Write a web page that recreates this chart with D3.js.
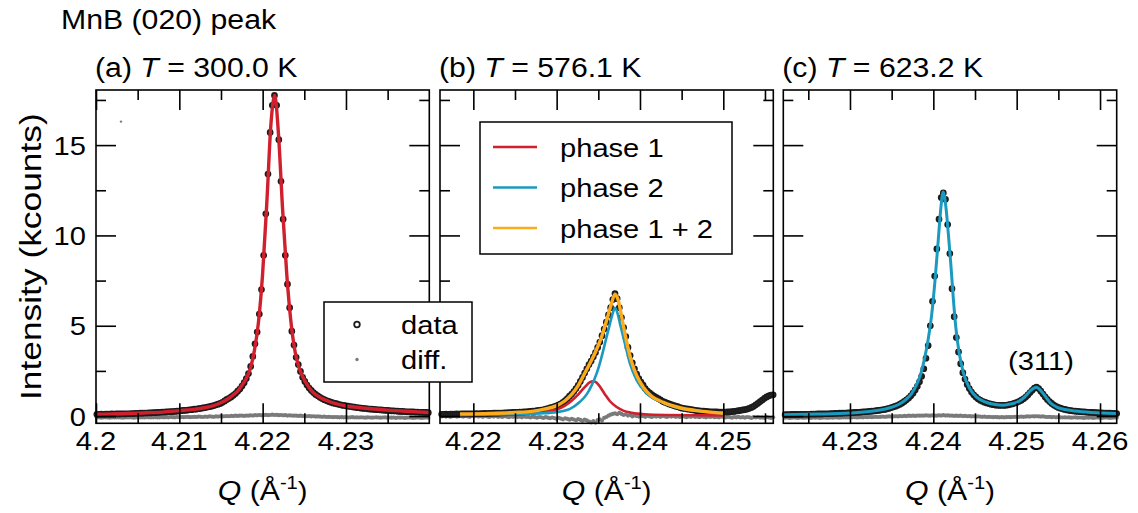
<!DOCTYPE html>
<html><head><meta charset="utf-8">
<script src="https://cdn.jsdelivr.net/npm/d3@7"></script>
<style>body{margin:0;background:#fff}svg{display:block}</style>
</head><body>
<svg id="chart" width="1138" height="513"></svg>
<script>
// ---------------- DATA ----------------
// measured Q grid: start + step * index (uniform detector sampling)
const qStep = 0.00026;
const qStartA = 4.2001, qStartB = 4.2162, qStartC = 4.22222;

// (a) T = 300.0 K  intensity (kcounts)
const dataA = [
0.10,0.10,0.11,0.10,0.11,0.11,0.11,0.12,0.11,0.12,
0.12,0.12,0.13,0.12,0.13,0.13,0.14,0.14,0.15,0.15,
0.16,0.16,0.17,0.17,0.18,0.18,0.19,0.19,0.20,0.21,
0.22,0.22,0.23,0.24,0.25,0.25,0.26,0.27,0.28,0.30,
0.31,0.32,0.33,0.35,0.36,0.38,0.39,0.41,0.43,0.45,
0.47,0.50,0.52,0.55,0.58,0.62,0.66,0.70,0.76,0.84,
0.92,0.98,1.06,1.15,1.25,1.38,1.50,1.66,1.85,2.08,
2.35,2.75,3.30,4.00,4.65,5.65,7.00,8.90,11.20,13.40,
15.70,17.20,17.75,17.20,15.30,13.00,10.90,8.90,7.30,6.00,
4.70,3.93,3.25,2.85,2.47,2.15,1.92,1.72,1.55,1.42,
1.30,1.20,1.12,1.04,0.97,0.91,0.86,0.81,0.77,0.73,
0.70,0.67,0.64,0.61,0.59,0.57,0.55,0.53,0.51,0.49,
0.47,0.46,0.44,0.43,0.42,0.40,0.39,0.38,0.37,0.36,
0.35,0.34,0.33,0.32,0.31,0.30,0.29,0.29,0.28,0.27,
0.26,0.26,0.25,0.24,0.24,0.23,0.23,0.22,0.22,0.21,
0.21,0.20,0.20,0.19];
const diffA = [
-0.08,-0.07,-0.09,-0.08,-0.07,-0.08,-0.09,-0.07,-0.08,-0.08,
-0.07,-0.08,-0.09,-0.08,-0.07,-0.08,-0.07,-0.09,-0.08,-0.07,
-0.08,-0.07,-0.08,-0.06,-0.07,-0.08,-0.07,-0.06,-0.08,-0.07,
-0.06,-0.07,-0.06,-0.07,-0.05,-0.06,-0.07,-0.05,-0.06,-0.05,
-0.06,-0.05,-0.04,-0.06,-0.05,-0.04,-0.05,-0.03,-0.04,-0.05,
-0.03,-0.04,-0.02,-0.03,-0.04,-0.02,-0.03,-0.01,-0.02,-0.01,
0.00,-0.01,0.01,0.00,0.02,0.01,0.02,0.03,0.01,0.03,
0.02,0.04,0.03,0.05,0.04,0.06,0.04,0.05,0.07,0.05,
0.06,0.08,0.06,0.07,0.05,0.06,0.04,0.05,0.03,0.04,
0.03,0.02,0.03,0.01,0.02,0.00,0.01,-0.01,0.00,-0.02,
-0.01,-0.03,-0.02,-0.03,-0.04,-0.03,-0.05,-0.04,-0.05,-0.06,
-0.05,-0.06,-0.07,-0.06,-0.07,-0.06,-0.08,-0.07,-0.06,-0.08,
-0.07,-0.08,-0.07,-0.08,-0.09,-0.07,-0.08,-0.09,-0.08,-0.07,
-0.08,-0.09,-0.08,-0.07,-0.09,-0.08,-0.09,-0.08,-0.10,-0.08,
-0.09,-0.08,-0.10,-0.09,-0.08,-0.09,-0.10,-0.09,-0.08,-0.09,
-0.10,-0.09,-0.08,-0.09];
const diffAOutlier = [[4.2030, 16.3]];
const fitA = [[4.2000,0.10],[4.2030,0.13],[4.2060,0.18],[4.2080,0.22],[4.2100,0.30],[4.2115,0.36],
[4.2130,0.46],[4.2140,0.56],[4.2150,0.74],[4.2160,1.00],[4.2165,1.18],[4.2170,1.38],[4.2175,1.70],
[4.2180,2.05],[4.2185,2.60],[4.2190,3.60],[4.2195,5.20],[4.2200,7.90],[4.2205,11.80],[4.2210,16.20],
[4.22145,17.75],[4.2219,15.60],[4.2224,11.40],[4.2229,7.80],[4.2234,5.20],[4.2239,3.55],[4.2244,2.65],
[4.2249,2.10],[4.2254,1.70],[4.2259,1.38],[4.2269,1.03],[4.2279,0.82],[4.2299,0.57],[4.2320,0.45],
[4.2350,0.33],[4.2375,0.26],[4.2400,0.20]];

// (b) T = 576.1 K
const dataB = [
0.10,0.10,0.11,0.10,0.11,0.11,0.11,0.12,0.11,0.12,
0.12,0.12,0.13,0.12,0.13,0.13,0.14,0.13,0.14,0.14,
0.15,0.14,0.15,0.15,0.16,0.16,0.16,0.17,0.17,0.18,
0.18,0.19,0.19,0.20,0.20,0.21,0.22,0.22,0.23,0.24,
0.25,0.26,0.27,0.28,0.30,0.31,0.33,0.35,0.38,0.41,
0.45,0.48,0.52,0.57,0.62,0.68,0.76,0.86,0.97,1.10,
1.22,1.36,1.52,1.70,1.92,2.14,2.38,2.62,2.85,3.05,
3.28,3.52,3.80,4.10,4.45,4.82,5.20,5.60,6.00,6.45,
6.78,6.50,6.00,5.45,4.90,4.40,3.80,3.35,2.95,2.62,
2.32,2.08,1.88,1.72,1.52,1.38,1.28,1.19,1.11,1.04,
0.97,0.90,0.82,0.77,0.72,0.67,0.63,0.59,0.55,0.52,
0.47,0.44,0.42,0.40,0.38,0.36,0.34,0.32,0.30,0.29,
0.28,0.27,0.26,0.25,0.24,0.24,0.23,0.23,0.22,0.22,
0.22,0.22,0.23,0.24,0.25,0.26,0.28,0.30,0.32,0.34,
0.36,0.39,0.43,0.48,0.54,0.62,0.71,0.80,0.89,0.98,
1.06,1.12,1.16,1.18];
const diffB = [
-0.02,0.01,-0.03,0.00,-0.04,-0.01,0.02,-0.03,-0.01,0.00,
-0.03,0.01,-0.02,-0.04,0.00,-0.02,0.01,-0.03,-0.01,-0.04,
0.00,-0.02,-0.05,-0.01,-0.03,0.01,-0.04,-0.02,-0.05,-0.01,
-0.03,-0.06,-0.02,-0.04,-0.01,-0.05,-0.03,-0.07,-0.02,-0.05,
-0.04,-0.08,-0.03,-0.06,-0.09,-0.05,-0.07,-0.10,-0.06,-0.09,
-0.12,-0.08,-0.11,-0.15,-0.10,-0.14,-0.18,-0.12,-0.16,-0.20,
-0.15,-0.19,-0.23,-0.17,-0.21,-0.26,-0.20,-0.24,-0.30,-0.35,
-0.28,-0.36,-0.22,-0.18,-0.25,-0.10,-0.05,0.02,0.08,0.12,
0.15,0.10,0.18,0.12,0.06,0.10,0.03,0.07,-0.02,0.04,
0.00,-0.03,0.02,-0.01,-0.04,0.01,-0.02,-0.05,0.00,-0.03,
-0.01,-0.04,0.01,-0.02,-0.05,-0.01,-0.03,0.00,-0.04,-0.02,
-0.05,-0.01,-0.03,-0.06,-0.02,-0.04,-0.01,-0.05,-0.03,-0.06,
-0.02,-0.04,-0.07,-0.03,-0.05,-0.02,-0.06,-0.04,-0.07,-0.03,
-0.05,-0.08,-0.04,-0.06,-0.09,-0.05,-0.07,-0.04,-0.08,-0.06,
-0.09,-0.05,-0.07,-0.10,-0.06,-0.08,-0.05,-0.09,-0.07,-0.10,
-0.06,-0.08,-0.10,-0.07];
const fitB_phase1 = [[4.2184,0.06],[4.2240,0.10],[4.2270,0.15],[4.2290,0.25],[4.2300,0.36],[4.2310,0.58],
[4.2318,0.85],[4.2326,1.20],[4.2334,1.62],[4.2340,1.88],[4.2344,1.93],[4.2348,1.85],[4.2352,1.62],
[4.2358,1.20],[4.2364,0.82],[4.2372,0.50],[4.2380,0.30],[4.2390,0.18],[4.2405,0.10],[4.2430,0.06],[4.2500,0.04]];
const fitB_phase2 = [[4.2184,0.06],[4.2240,0.10],[4.2280,0.15],[4.2300,0.22],[4.2316,0.40],[4.2328,0.79],
[4.2336,1.20],[4.2342,1.70],[4.2348,2.36],[4.2352,2.95],[4.2356,3.65],[4.2360,4.40],[4.2364,5.12],
[4.2367,5.65],[4.2370,5.99],[4.2373,5.70],[4.2376,5.12],[4.2382,4.00],[4.2388,2.90],[4.2396,1.99],
[4.2408,1.26],[4.2428,0.74],[4.2448,0.42],[4.2468,0.28],[4.2500,0.15]];
const fitB_sum = [[4.2184,0.12],[4.2220,0.15],[4.2250,0.20],[4.2270,0.26],[4.2285,0.38],[4.2300,0.58],
[4.2310,0.85],[4.2318,1.20],[4.2326,1.70],[4.2334,2.40],[4.2342,3.10],[4.2348,3.70],[4.2354,4.40],
[4.2360,5.30],[4.2365,6.10],[4.2370,6.75],[4.2374,6.40],[4.2378,5.50],[4.2382,4.55],[4.2386,3.70],
[4.2390,3.00],[4.2396,2.25],[4.2404,1.60],[4.2414,1.10],[4.2428,0.76],[4.2448,0.46],[4.2468,0.30],
[4.2485,0.22],[4.2500,0.17]];

// (c) T = 623.2 K
const dataC = [
0.08,0.08,0.08,0.09,0.09,0.09,0.09,0.10,0.10,0.10,
0.10,0.10,0.11,0.11,0.11,0.12,0.12,0.12,0.13,0.13,
0.13,0.14,0.14,0.15,0.15,0.16,0.16,0.17,0.17,0.18,
0.18,0.19,0.20,0.20,0.21,0.22,0.23,0.24,0.25,0.26,
0.27,0.28,0.30,0.31,0.33,0.35,0.37,0.40,0.43,0.47,
0.51,0.55,0.60,0.66,0.73,0.81,0.90,1.00,1.12,1.27,
1.45,1.65,1.90,2.20,2.62,3.20,3.90,5.00,6.35,7.75,
9.25,10.90,12.10,12.35,12.00,10.60,9.00,7.05,5.50,4.35,
3.55,2.90,2.40,2.05,1.75,1.52,1.33,1.18,1.06,0.96,
0.88,0.82,0.77,0.73,0.69,0.66,0.63,0.61,0.60,0.59,
0.60,0.59,0.60,0.62,0.65,0.68,0.72,0.76,0.82,0.88,
0.96,1.05,1.17,1.30,1.43,1.55,1.60,1.52,1.38,1.22,
1.06,0.92,0.80,0.70,0.61,0.54,0.48,0.44,0.40,0.37,
0.34,0.32,0.30,0.28,0.27,0.26,0.25,0.24,0.23,0.22,
0.21,0.20,0.20,0.19,0.19,0.18,0.18,0.17,0.17,0.16,
0.16,0.15,0.15,0.14];
const diffC = [
-0.09,-0.08,-0.10,-0.09,-0.08,-0.09,-0.10,-0.08,-0.09,-0.09,
-0.08,-0.09,-0.10,-0.08,-0.09,-0.08,-0.10,-0.09,-0.08,-0.09,
-0.09,-0.08,-0.09,-0.07,-0.08,-0.09,-0.08,-0.07,-0.08,-0.07,
-0.08,-0.07,-0.06,-0.08,-0.07,-0.06,-0.07,-0.05,-0.06,-0.05,
-0.06,-0.05,-0.04,-0.05,-0.04,-0.03,-0.04,-0.03,-0.02,-0.03,
-0.02,-0.01,-0.02,0.00,-0.01,0.01,0.00,0.02,0.01,0.02,
0.01,0.03,0.02,0.03,0.02,0.04,0.03,0.02,0.04,0.03,
0.02,0.04,0.03,0.05,0.03,0.04,0.02,0.03,0.01,0.02,
0.01,0.02,0.00,0.01,-0.01,0.00,-0.02,-0.01,-0.03,-0.02,
-0.03,-0.04,-0.03,-0.05,-0.04,-0.05,-0.06,-0.05,-0.06,-0.07,
-0.06,-0.07,-0.06,-0.05,-0.06,-0.05,-0.04,-0.05,-0.04,-0.03,
-0.04,-0.03,-0.02,-0.03,-0.01,-0.02,-0.01,-0.02,-0.03,-0.02,
-0.04,-0.05,-0.04,-0.06,-0.05,-0.07,-0.06,-0.07,-0.08,-0.07,
-0.08,-0.07,-0.09,-0.08,-0.07,-0.09,-0.08,-0.09,-0.10,-0.08,
-0.09,-0.08,-0.10,-0.09,-0.08,-0.09,-0.10,-0.09,-0.08,-0.09,
-0.10,-0.09,-0.08,-0.09];
const fitC_phase2 = [[4.2220,0.08],[4.2260,0.11],[4.2300,0.17],[4.2330,0.29],[4.2350,0.49],[4.2360,0.68],
[4.2368,0.95],[4.2374,1.25],[4.2380,1.75],[4.2385,2.35],[4.2390,3.30],[4.2394,4.30],[4.2398,5.60],
[4.2402,7.50],[4.2406,9.80],[4.2409,11.50],[4.24118,12.40],[4.2415,11.60],[4.2418,10.10],[4.2421,8.40],
[4.2424,6.50],[4.2427,4.90],[4.2431,3.50],[4.2436,2.40],[4.2444,1.50],[4.2452,1.05],[4.2462,0.78],
[4.2474,0.64],[4.2484,0.60],[4.2494,0.68],[4.2502,0.80],[4.2510,1.08],[4.2516,1.38],[4.25235,1.60],
[4.2530,1.35],[4.2535,1.05],[4.2540,0.75],[4.2548,0.50],[4.2558,0.36],[4.2570,0.28],[4.2590,0.20],[4.2620,0.14]];

// axes
const yDomain = [-0.4, 18.05];
const yMajor = [0, 5, 10, 15];
const yMinor = [2.5, 7.5, 12.5, 17.5];
const xDomainA = [4.2, 4.24], xDomainB = [4.216, 4.256], xDomainC = [4.222, 4.262];
const xMajorA = [4.2, 4.21, 4.22, 4.23], xLabelsA = ["4.2", "4.21", "4.22", "4.23"];
const xMajorB = [4.22, 4.23, 4.24, 4.25], xLabelsB = ["4.22", "4.23", "4.24", "4.25"];
const xMajorC = [4.23, 4.24, 4.25, 4.26], xLabelsC = ["4.23", "4.24", "4.25", "4.26"];
const xMinorA = [4.205, 4.215, 4.225, 4.235];
const xMinorB = [4.225, 4.235, 4.245, 4.255];
const xMinorC = [4.225, 4.235, 4.245, 4.255];
const panelTitles = [["(a) ", "T", " = 300.0 K"], ["(b) ", "T", " = 576.1 K"], ["(c) ", "T", " = 623.2 K"]];
const legend1Labels = ["data", "diff."];
const legend2Labels = ["phase 1", "phase 2", "phase 1 + 2"];

// ---------------- STYLE ----------------
const FONT = "'Liberation Sans', Arial, Helvetica, sans-serif";
const SX = 1.12;
const RED = "#d0202e", BLUE = "#1b9ac0", ORANGE = "#fbab1c", DOT = "#1b1b1b", GREY = "#7a7a7a";
const TOP = 90, BOTTOM = 423.3;
const panelX = [[96, 429.3], [440, 773.3], [783.3, 1116.7]];
const MAJOR_LEN = 20, MINOR_LEN = 10;

const svg = d3.select("#chart");

function addText(parent, px, py, parts, o = {}) {
  const g = parent.append("g").attr("transform",
    `translate(${px},${py})` + (o.rotate ? ` rotate(${o.rotate})` : "") + ` scale(${o.sx || SX},1)`);
  const t = g.append("text").attr("font-family", FONT).attr("font-size", o.size || 26)
    .attr("text-anchor", o.anchor || "start").attr("fill", "#000");
  parts.forEach(p => {
    const s = t.append("tspan").text(p.t);
    if (p.italic) s.attr("font-style", "italic");
    if (p.dy) s.attr("dy", p.dy);
    if (p.size) s.attr("font-size", p.size);
  });
  return t;
}

const yScale = d3.scaleLinear().domain(yDomain).range([BOTTOM, TOP]);

const panels = [
  {dom: xDomainA, major: xMajorA, labels: xLabelsA, minor: xMinorA, start: qStartA, data: dataA, diff: diffA,
   fits: [{pts: fitA, color: RED, w: 3.4}]},
  {dom: xDomainB, major: xMajorB, labels: xLabelsB, minor: xMinorB, start: qStartB, data: dataB, diff: diffB,
   fits: [{pts: fitB_phase1, color: RED, w: 2.6}, {pts: fitB_phase2, color: BLUE, w: 2.6}, {pts: fitB_sum, color: ORANGE, w: 3.4}]},
  {dom: xDomainC, major: xMajorC, labels: xLabelsC, minor: xMinorC, start: qStartC, data: dataC, diff: diffC,
   fits: [{pts: fitC_phase2, color: BLUE, w: 3.0}]}
];

const plotLayer = svg.append("g");
const frameLayer = svg.append("g");
const textLayer = svg.append("g");
const legendLayer = svg.append("g");

panels.forEach((p, k) => {
  const [x0, x1] = panelX[k];
  const xs = d3.scaleLinear().domain(p.dom).range([x0, x1]);
  const g = plotLayer.append("g");

  // diff points
  g.append("g").selectAll("circle").data(p.diff).join("circle")
    .attr("cx", (d, i) => xs(p.start + qStep * i)).attr("cy", d => yScale(d))
    .attr("r", 2.1).attr("fill", GREY);
  if (k === 0) {
    g.append("g").selectAll("circle").data(diffAOutlier).join("circle")
      .attr("cx", d => xs(d[0])).attr("cy", d => yScale(d[1])).attr("r", 1.2).attr("fill", GREY);
  }
  // data points
  g.append("g").selectAll("circle").data(p.data).join("circle")
    .attr("cx", (d, i) => xs(p.start + qStep * i)).attr("cy", d => yScale(d))
    .attr("r", 2.6).attr("fill", "#2a2a2a").attr("stroke", DOT).attr("stroke-width", 1.5);
  // fits
  const lineGen = d3.line().x(d => xs(d[0])).y(d => yScale(d[1])).curve(d3.curveMonotoneX);
  p.fits.forEach(f => {
    g.append("path").datum(f.pts).attr("d", lineGen).attr("fill", "none")
      .attr("stroke", f.color).attr("stroke-width", f.w).attr("stroke-linejoin", "round");
  });

  // frame
  frameLayer.append("rect").attr("x", x0).attr("y", TOP).attr("width", x1 - x0).attr("height", BOTTOM - TOP)
    .attr("fill", "none").attr("stroke", "#000").attr("stroke-width", 1.6);

  // inward ticks via d3 axes (bottom/top/left/right, major + minor)
  const tickStyle = sel => {
    sel.select(".domain").remove();
    sel.selectAll(".tick line").attr("stroke", "#000").attr("stroke-width", 1.6);
    sel.selectAll(".tick text").remove();
  };
  [[p.major, MAJOR_LEN], [p.minor, MINOR_LEN]].forEach(([vals, len]) => {
    frameLayer.append("g").attr("transform", `translate(0,${BOTTOM})`)
      .call(d3.axisBottom(xs).tickValues(vals).tickSize(-len)).call(tickStyle);
    frameLayer.append("g").attr("transform", `translate(0,${TOP})`)
      .call(d3.axisTop(xs).tickValues(vals).tickSize(-len)).call(tickStyle);
  });
  [[yMajor, MAJOR_LEN], [yMinor, MINOR_LEN]].forEach(([vals, len]) => {
    frameLayer.append("g").attr("transform", `translate(${x0},0)`)
      .call(d3.axisLeft(yScale).tickValues(vals).tickSize(-len)).call(tickStyle);
    frameLayer.append("g").attr("transform", `translate(${x1},0)`)
      .call(d3.axisRight(yScale).tickValues(vals).tickSize(-len)).call(tickStyle);
  });

  // x tick labels
  p.major.forEach((v, i) => addText(textLayer, xs(v), BOTTOM + 27, [{t: p.labels[i]}], {anchor: "middle", size: 26}));
  // y tick labels (panel a only)
  if (k === 0) yMajor.forEach(v => addText(textLayer, x0 - 10, yScale(v) + 9.5, [{t: d3.format("d")(v)}], {anchor: "end", size: 26}));

  // panel title
  const pt = panelTitles[k];
  addText(textLayer, x0 - 1, 76.5, [{t: pt[0]}, {t: pt[1], italic: true}, {t: pt[2]}], {size: 27});
  // x axis label
  addText(textLayer, (x0 + x1) / 2, 500, [{t: "Q", italic: true}, {t: " (Å"}, {t: "-1", dy: -11, size: 18}, {t: ")", dy: 11, size: 26}], {anchor: "middle", size: 27});
});

// (311) annotation
addText(textLayer, 1041, 370, [{t: "(311)"}], {anchor: "middle", size: 26});

// overall title & y label
addText(textLayer, 61, 28.5, [{t: "MnB (020) peak"}], {size: 27});
addText(textLayer, 41, (TOP + BOTTOM) / 2, [{t: "Intensity (kcounts)"}], {anchor: "middle", size: 29, sx: 1.22, rotate: -90});

// legend 1 (data / diff.)
const lg1 = legendLayer.append("g");
lg1.append("rect").attr("x", 324).attr("y", 302).attr("width", 148).attr("height", 80)
  .attr("fill", "#fff").attr("stroke", "#000").attr("stroke-width", 1.5);
lg1.append("circle").attr("cx", 357).attr("cy", 324.5).attr("r", 2.8).attr("fill", "none")
  .attr("stroke", DOT).attr("stroke-width", 1.8);
lg1.append("circle").attr("cx", 357).attr("cy", 359.5).attr("r", 1.7).attr("fill", GREY);
addText(lg1, 401, 334, [{t: legend1Labels[0]}], {size: 26});
addText(lg1, 401, 369, [{t: legend1Labels[1]}], {size: 26});

// legend 2 (phases)
const lg2 = legendLayer.append("g");
lg2.append("rect").attr("x", 480).attr("y", 122).attr("width", 252).attr("height", 132)
  .attr("fill", "#fff").attr("stroke", "#000").attr("stroke-width", 1.5);
[RED, BLUE, ORANGE].forEach((c, i) => {
  const yy = 147 + i * 40.5;
  lg2.append("line").attr("x1", 493).attr("x2", 537).attr("y1", yy).attr("y2", yy)
    .attr("stroke", c).attr("stroke-width", 2.6);
  addText(lg2, 560, yy + 9.5, [{t: legend2Labels[i]}], {size: 26});
});
</script>
</body></html>
